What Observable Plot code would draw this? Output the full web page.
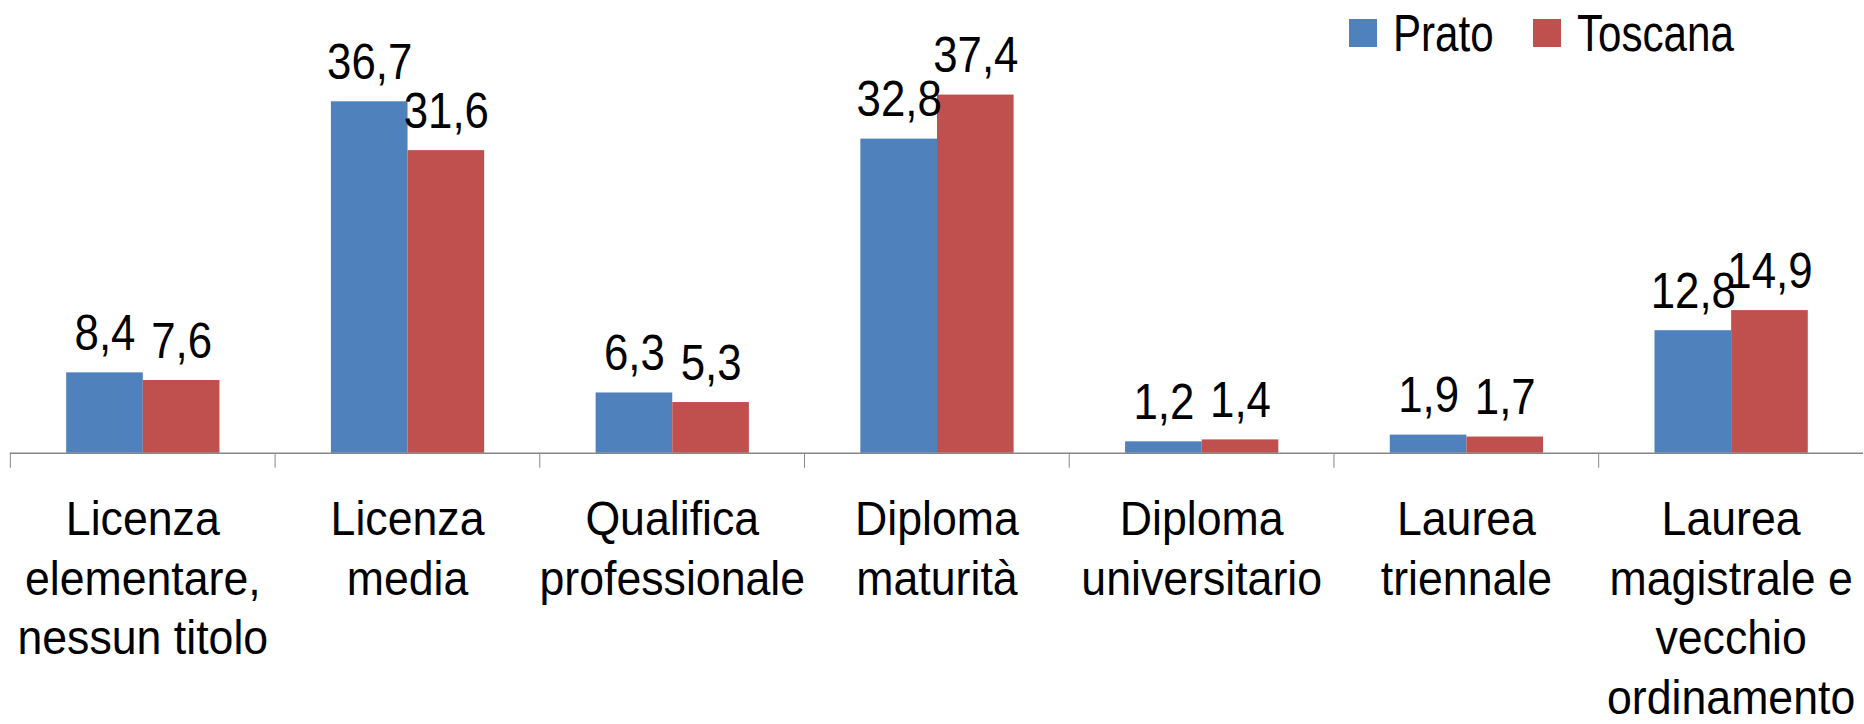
<!DOCTYPE html>
<html>
<head>
<meta charset="utf-8">
<script src="https://cdn.jsdelivr.net/npm/d3@7"></script>
<script src="https://cdn.jsdelivr.net/npm/@observablehq/plot@0.6"></script>
<style>
  html, body { margin: 0; padding: 0; background: #fff; overflow: hidden; }
  #wrap { position: relative; width: 1864px; height: 724px; overflow: hidden; }
  #legend { position: absolute; left: 0; top: 0; }
  svg text { font-family: "Liberation Sans", Arial, sans-serif; }
</style>
</head>
<body>
<div id="wrap"><div id="chart"></div><svg id="legend" width="1864" height="70"></svg></div>
<script>
// ---- data ----
const categories = [
  "Licenza elementare, nessun titolo",
  "Licenza media",
  "Qualifica professionale",
  "Diploma maturità",
  "Diploma universitario",
  "Laurea triennale",
  "Laurea magistrale e vecchio ordinamento"
];
const tickLabels = [
  "Licenza\nelementare,\nnessun titolo",
  "Licenza\nmedia",
  "Qualifica\nprofessionale",
  "Diploma\nmaturità",
  "Diploma\nuniversitario",
  "Laurea\ntriennale",
  "Laurea\nmagistrale e\nvecchio\nordinamento"
];
const series = ["Prato", "Toscana"];
const prato   = [8.4, 36.7, 6.3, 32.8, 1.2, 1.9, 12.8];
const toscana = [7.6, 31.6, 5.3, 37.4, 1.4, 1.7, 14.9];
const colors = ["#4F81BD", "#C0504D"];

// ---- table for Plot ----
const rows = [];
categories.forEach((c, i) => {
  rows.push({cat: c, series: series[0], value: prato[i]});
  rows.push({cat: c, series: series[1], value: toscana[i]});
});

const W = 1873, H = 724, ML = 9.5, MR = 0, MT = 70, MB = 269;
const band = (W - ML - MR) / categories.length;
const fmt = v => v.toFixed(1).replace(".", ",");
const axisColor = "#868686";
const font = '"Liberation Sans", Arial, sans-serif';
const valueSize = 50, labelSize = 48, legendSize = 52;

const chart = Plot.plot({
  width: W, height: H,
  marginLeft: ML, marginRight: MR, marginTop: MT, marginBottom: MB,
  style: {fontFamily: font, color: "#000", background: "transparent", overflow: "visible"},
  fx: {domain: categories, paddingInner: 0, paddingOuter: 0},
  x: {domain: series, paddingInner: 0, paddingOuter: 0.727, axis: null},
  y: {domain: [0, 40], axis: null},
  color: {domain: series, range: colors},
  marks: [
    Plot.barY(rows, {fx: "cat", x: "series", y: "value", fill: "series"}),
    Plot.ruleY([0], {stroke: axisColor, strokeWidth: 1.5}),
    Plot.text(rows, {fx: "cat", x: "series", y: "value", text: d => fmt(d.value),
      dy: -23, lineAnchor: "bottom", fontSize: valueSize, fill: "#000"}),
    Plot.axisFx({anchor: "bottom", tickSize: 15, dx: -band / 2, stroke: axisColor,
      tickFormat: () => "", label: null}),
    Plot.axisFx({anchor: "bottom", tickSize: 0, tickPadding: 39.5, label: null,
      tickFormat: d => tickLabels[categories.indexOf(d)],
      fontSize: labelSize, lineHeight: 60 / labelSize, fill: "#000"})
  ]
});
document.getElementById("chart").appendChild(chart);

// narrow the glyphs horizontally (Arial Narrow look) around each text's anchor
function squeeze(nodes, s) {
  nodes.forEach(el => {
    let t = el.getAttribute("transform") || "";
    const x = el.getAttribute("x");
    if (x != null && !/em/.test(x)) { t += ` translate(${x},0)`; el.setAttribute("x", 0); }
    el.setAttribute("transform", (t + ` scale(${s},1)`).trim());
  });
}
squeeze(chart.querySelectorAll(`g[font-size="${valueSize}"] text`), 0.88);
squeeze(chart.querySelectorAll(`g[font-size="${labelSize}"] text`), 0.935);

// ---- legend ----
const leg = d3.select("#legend");
const legendX = [1349, 1533];
series.forEach((s, i) => {
  leg.append("rect").attr("x", legendX[i]).attr("y", 19).attr("width", 28).attr("height", 28).attr("fill", colors[i]);
  leg.append("text").attr("transform", `translate(${legendX[i] + 44},51) scale(0.81,1)`)
    .attr("font-size", legendSize).attr("fill", "#000").text(s);
});
</script>
</body>
</html>
